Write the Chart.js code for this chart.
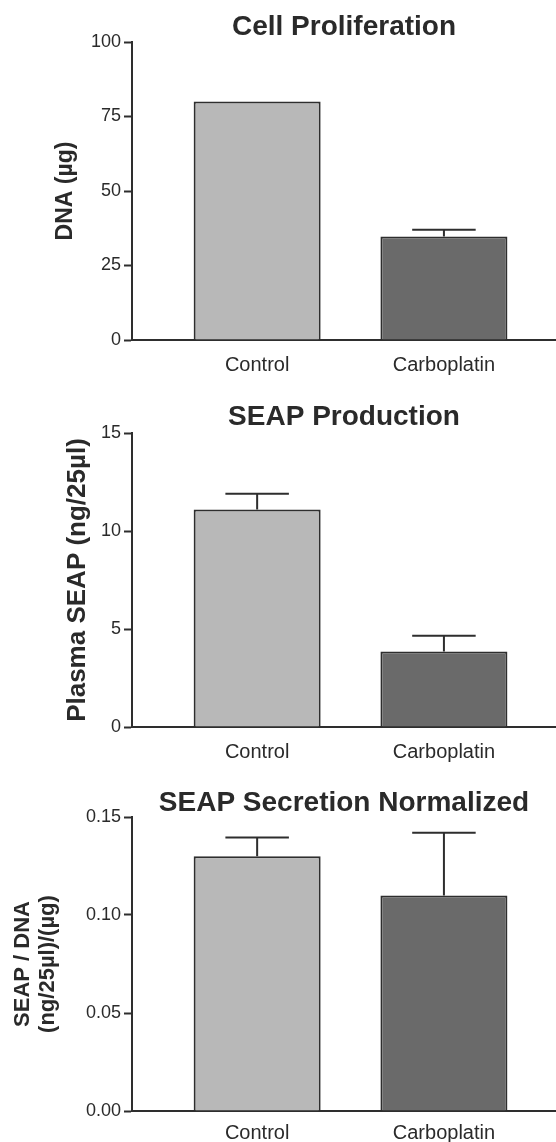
<!DOCTYPE html>
<html>
<head>
<meta charset="utf-8">
<title>Carboplatin effect</title>
<script src="https://cdn.jsdelivr.net/npm/chart.js@4"></script>
<style>
    body { margin: 0; background: #fff; }
    .panel { position: relative; width: 556px; }
</style>
</head>
<body>
<div class="panel" style="height:376px"><canvas id="dnaChart"></canvas></div>
<div class="panel" style="height:388px"><canvas id="seapChart"></canvas></div>
<div class="panel" style="height:378px"><canvas id="ratioChart"></canvas></div>

<script>
// Data
const categories = ['Control', 'Carboplatin'];
const barColors = ['#b8b8b8', '#6a6a6a'];

const dnaValues = [80, 34.7];
const dnaErrors = [0, 2.3];
const dnaTicks = [0, 25, 50, 75, 100];

const seapValues = [11.1, 3.85];
const seapErrors = [0.8, 0.8];
const seapTicks = [0, 5, 10, 15];

const ratioValues = [0.13, 0.11];
const ratioErrors = [0.0095, 0.032];
const ratioTicks = [0, 0.05, 0.10, 0.15];

Chart.defaults.font.family = '"Liberation Sans", Arial, sans-serif';
Chart.defaults.color = '#2a2a2a';
Chart.defaults.animation = false;

// draws the upper half of an error bar on each bar
const errorBars = {
    id: 'errorBars',
    afterDatasetsDraw(chart, args, opts) {
        if (!opts.errors) return;
        const ctx = chart.ctx;
        const yScale = chart.scales.y;
        const meta = chart.getDatasetMeta(0);
        ctx.save();
        ctx.strokeStyle = '#2e2e2e';
        ctx.lineWidth = 2;
        meta.data.forEach(function (bar, i) {
            const err = opts.errors[i];
            if (!err) return;
            const v = chart.data.datasets[0].data[i].y;
            const yTop = yScale.getPixelForValue(v + err);
            const half = bar.width / 4;
            ctx.beginPath();
            ctx.moveTo(bar.x, bar.y);
            ctx.lineTo(bar.x, yTop);
            ctx.moveTo(bar.x - half, yTop);
            ctx.lineTo(bar.x + half, yTop);
            ctx.stroke();
        });
        ctx.restore();
    }
};
Chart.register(errorBars);

function makeChart(id, title, titlePad, yTitle, values, errors, ticks, decimals, axisHeight, labelPad) {
    const ctx = document.getElementById(id).getContext('2d');
    return new Chart(ctx, {
        type: 'bar',
        data: {
            datasets: [{
                data: values.map(function (v, i) { return { x: i + 1, y: v }; }),
                backgroundColor: barColors,
                borderColor: '#2e2e2e',
                borderWidth: 2,
                barPercentage: 0.68,
                categoryPercentage: 1
            }]
        },
        options: {
            responsive: true,
            maintainAspectRatio: false,
            layout: { padding: 0 },
            plugins: {
                legend: { display: false },
                tooltip: { enabled: false },
                title: {
                    display: true,
                    text: title,
                    fullSize: false,
                    color: '#2a2a2a',
                    font: { size: 28, weight: 'bold', lineHeight: 1 },
                    padding: titlePad
                },
                errorBars: { errors: errors }
            },
            scales: {
                x: {
                    type: 'linear',
                    offset: false,
                    min: 0.33,
                    max: 2.6,
                    grid: { display: false, offset: false },
                    border: { color: '#2e2e2e', width: 2 },
                    afterBuildTicks: function (axis) {
                        axis.ticks = categories.map(function (c, i) { return { value: i + 1 }; });
                    },
                    afterFit: function (axis) { axis.height = axisHeight; },
                    ticks: {
                        autoSkip: false,
                        maxRotation: 0,
                        padding: labelPad,
                        font: { size: 20 },
                        callback: function (v) { return categories[v - 1]; }
                    }
                },
                y: {
                    min: ticks[0],
                    max: ticks[ticks.length - 1],
                    afterBuildTicks: function (axis) {
                        axis.ticks = ticks.map(function (t) { return { value: t }; });
                    },
                    afterFit: function (axis) { axis.width = 132; },
                    grid: {
                        drawOnChartArea: false,
                        drawTicks: true,
                        tickLength: 8,
                        tickWidth: 2,
                        color: '#2e2e2e'
                    },
                    border: { color: '#2e2e2e', width: 2 },
                    ticks: {
                        padding: 3,
                        font: { size: 18 },
                        callback: function (v) { return v.toFixed(decimals); }
                    },
                    title: yTitle
                }
            }
        }
    });
}

makeChart('dnaChart', 'Cell Proliferation', { top: 13, bottom: 1 },
    { display: true, text: 'DNA (µg)', color: '#2a2a2a', font: { size: 23, weight: 'bold' }, padding: { top: 52, bottom: 0 } },
    dnaValues, dnaErrors, dnaTicks, 0, 36, 5);

makeChart('seapChart', 'SEAP Production', { top: 27, bottom: 2 },
    { display: true, text: 'Plasma SEAP (ng/25µl)', color: '#2a2a2a', font: { size: 26, weight: 'bold' }, padding: { top: 62, bottom: 0 } },
    seapValues, seapErrors, seapTicks, 0, 37, 5);

makeChart('ratioChart', 'SEAP Secretion Normalized', { top: 25, bottom: 0 },
    { display: true, text: ['SEAP / DNA', '(ng/25µl)/(µg)'], color: '#2a2a2a', font: { size: 22, weight: 'bold', lineHeight: 1.15 }, padding: { top: 10, bottom: 0 } },
    ratioValues, ratioErrors, ratioTicks, 2, 31, 2);
</script>
</body>
</html>
